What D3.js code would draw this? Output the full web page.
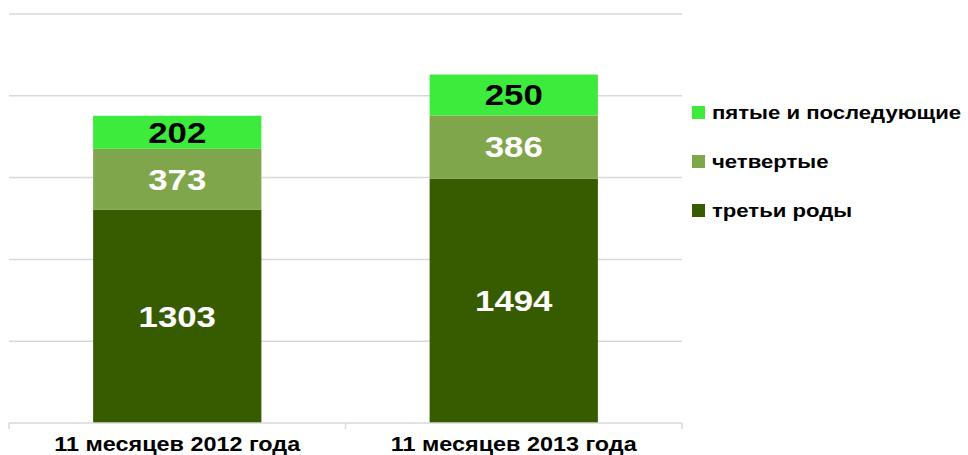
<!DOCTYPE html>
<html>
<head>
<meta charset="utf-8">
<script src="https://cdn.jsdelivr.net/npm/d3@7"></script>
<style>
  body { margin: 0; background: #fff; }
  #app { width: 968px; height: 455px; }
  text { font-family: "Liberation Sans", Arial, sans-serif; font-weight: bold; }
</style>
</head>
<body>
<div id="app"></div>
<script>
// Chart data
const categories = ["11 месяцев 2012 года", "11 месяцев 2013 года"];
const seriesNames = ["третьи роды", "четвертые", "пятые и последующие"];
const third = [1303, 1494];
const fourth = [373, 386];
const fifthPlus = [202, 250];
const yTicks = [0, 500, 1000, 1500, 2000, 2500];

const colors = ["#375C00", "#7FA64A", "#3DEB3D"];
const labelColors = ["#fff", "#fff", "#000"];

function drawChart(targetDiv) {
  const width = 968, height = 455;
  const margin = {top: 14, bottom: 32, left: 9, right: 286};
  const stretch = 1.2; // the original text is set noticeably wide

  const svg = d3.select(targetDiv).append("svg")
    .attr("width", width)
    .attr("height", height);

  const rows = categories.map((c, i) => ({
    cat: c, [seriesNames[0]]: third[i], [seriesNames[1]]: fourth[i], [seriesNames[2]]: fifthPlus[i]
  }));
  const stacked = d3.stack().keys(seriesNames)(rows);

  const x = d3.scaleBand()
    .domain(categories)
    .range([margin.left, width - margin.right])
    .paddingInner(0.5)
    .paddingOuter(0.25);

  const y = d3.scaleLinear()
    .domain([0, 2500])
    .range([height - margin.bottom, margin.top]);

  // horizontal gridlines
  svg.append("g")
    .selectAll("line")
    .data(yTicks.slice(1))
    .join("line")
    .attr("x1", margin.left)
    .attr("x2", width - margin.right)
    .attr("y1", d => y(d))
    .attr("y2", d => y(d))
    .attr("stroke", "#d9d9d9")
    .attr("stroke-width", 1.5);

  // bars
  const layers = svg.append("g")
    .selectAll("g")
    .data(stacked)
    .join("g")
    .attr("fill", (d, i) => colors[i]);

  layers.selectAll("rect")
    .data(d => d)
    .join("rect")
    .attr("x", d => x(d.data.cat))
    .attr("width", x.bandwidth())
    .attr("y", d => y(d[1]))
    .attr("height", d => y(d[0]) - y(d[1]));

  // value labels
  stacked.forEach((layer, i) => {
    svg.append("g")
      .selectAll("text")
      .data(layer)
      .join("text")
      .attr("transform", d =>
        `translate(${x(d.data.cat) + x.bandwidth() / 2}, ${(y(d[0]) + y(d[1])) / 2}) scale(${stretch}, 1)`)
      .attr("dy", "0.36em")
      .attr("text-anchor", "middle")
      .attr("fill", labelColors[i])
      .style("font-size", "29px")
      .text(d => d[1] - d[0]);
  });

  // x axis line + separators
  const y0 = y(0);
  svg.append("line")
    .attr("x1", margin.left).attr("x2", width - margin.right)
    .attr("y1", y0).attr("y2", y0)
    .attr("stroke", "#d9d9d9").attr("stroke-width", 1.5);
  const edges = [margin.left, (margin.left + width - margin.right) / 2, width - margin.right];
  svg.append("g")
    .selectAll("line")
    .data(edges)
    .join("line")
    .attr("x1", d => d).attr("x2", d => d)
    .attr("y1", y0).attr("y2", y0 + 6)
    .attr("stroke", "#d9d9d9")
    .attr("stroke-width", 1.5);

  // category labels
  svg.append("g")
    .selectAll("text")
    .data(categories)
    .join("text")
    .attr("transform", d => `translate(${x(d) + x.bandwidth() / 2}, 451) scale(1.17, 1)`)
    .attr("text-anchor", "middle")
    .attr("fill", "#000")
    .style("font-size", "20px")
    .text(d => d);

  // legend (reversed order)
  const legendItems = seriesNames.map((n, i) => ({name: n, color: colors[i]})).reverse();
  const legend = svg.append("g")
    .attr("transform", "translate(692, 112)")
    .selectAll("g")
    .data(legendItems)
    .join("g")
    .attr("transform", (d, i) => `translate(0, ${i * 49})`);
  legend.append("rect")
    .attr("x", 0).attr("y", -6)
    .attr("width", 13).attr("height", 13)
    .attr("fill", d => d.color);
  legend.append("text")
    .attr("transform", "translate(20, 7) scale(1.23, 1)")
    .style("font-size", "18px")
    .attr("fill", "#000")
    .text(d => d.name);
}

drawChart("#app");
</script>
</body>
</html>
